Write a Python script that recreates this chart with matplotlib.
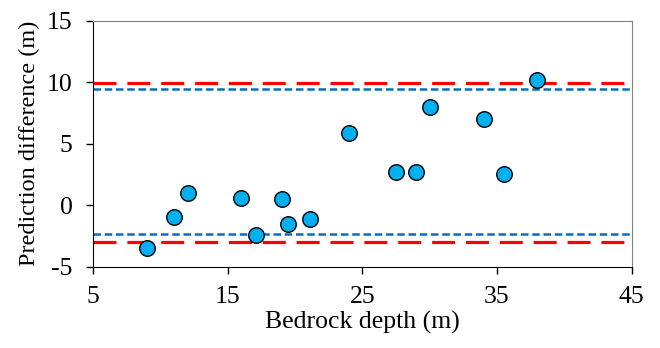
import matplotlib
matplotlib.use("Agg")
import matplotlib.pyplot as plt

depth = [9, 11, 12, 16, 17.1, 19, 19.5, 21.1, 24, 27.5, 29, 30, 34, 35.5, 38]
diff = [-3.45, -0.98, 1.0, 0.62, -2.44, 0.51, -1.5, -1.09, 5.9, 2.73, 2.73, 8.02, 7.02, 2.52, 10.2]
red_limits = [9.9, -2.98]
blue_limits = [9.45, -2.38]
xticks = [5, 15, 25, 35, 45]
yticks = [-5, 0, 5, 10, 15]

plt.rcParams['font.family'] = ['Liberation Serif', 'DejaVu Serif']
plt.rcParams['axes.unicode_minus'] = False
fig = plt.figure(figsize=(6.6, 3.48), dpi=100)
ax = fig.add_axes([0.1414, 0.2336, 0.8156, 0.7069])

for v in red_limits:
    ax.axhline(v, color='#FF0000', lw=2.3, dashes=(7.2, 3.4), zorder=2)
for v in blue_limits:
    ax.axhline(v, color='#0070C0', lw=1.8, dashes=(3.0, 1.5), zorder=2)

ax.scatter(depth, diff, s=125, c='#00B0F0', edgecolors='black', linewidths=1.0, zorder=3)

ax.set_xlim(5, 45)
ax.set_ylim(-5, 15)
ax.set_xticks(xticks)
ax.set_yticks(yticks)
ax.tick_params(direction='out', length=5, width=1, labelsize=18.5)
ax.tick_params(axis='y', pad=10)
ax.tick_params(axis='x', pad=9)
for s in ['top', 'right']:
    ax.spines[s].set_color('#808080')
for s in ['left', 'bottom']:
    ax.spines[s].set_color('black')
ax.set_xlabel('Bedrock depth (m)', fontsize=18.5, labelpad=2)
ax.set_ylabel('Prediction difference (m)', fontsize=17.5, labelpad=5)

fig.savefig('out.png', dpi=100)
